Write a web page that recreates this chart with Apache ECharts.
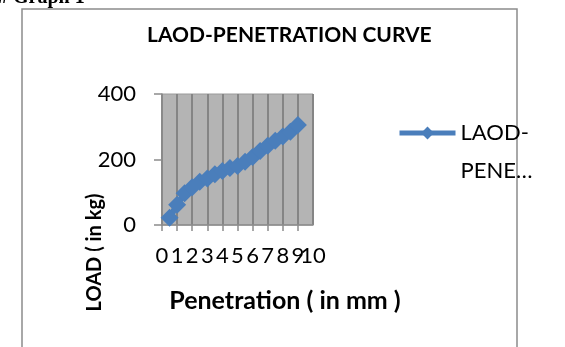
<!DOCTYPE html>
<html>
<head>
<meta charset="utf-8">
<script src="https://cdn.jsdelivr.net/npm/echarts@6/dist/echarts.min.js"></script>
<style>
  html, body { margin: 0; padding: 0; background: #fff; }
  #chart { width: 565px; height: 347px; }
</style>
</head>
<body>
<div id="chart"></div>
<script>
// penetration (mm) vs load (kg)
const penetration = [0.5, 1, 1.5, 2, 2.5, 3, 3.5, 4, 4.5, 5, 5.5, 6, 6.5, 7, 7.5, 8, 8.5, 9]
const load = [22, 62, 97, 115, 132, 142, 155, 165, 174, 180, 193, 208, 226, 242, 257, 270, 285, 305]
const xTicks = [0, 1, 2, 3, 4, 5, 6, 7, 8, 9, 10]
const yTicks = [0, 200, 400]

const seriesName = 'LAOD-PENETRATION CURVE'
const font = 'Lato'
const blue = '#4a7ebb'
const xMin = xTicks[0]
const xMax = xTicks[xTicks.length - 1]

const chart = echarts.init(document.getElementById('chart'))

const xLabelStyle = {
  margin: 20,
  hideOverlap: false,
  fontFamily: font,
  fontSize: 22,
  color: '#000'
}

chart.setOption({
  animation: false,
  backgroundColor: '#fff',
  graphic: [
    {
      type: 'text',
      left: -2,
      top: -12,
      style: {
        text: '# Graph 1',
        font: 'bold 20px "Liberation Serif"',
        fill: '#000'
      }
    },
    {
      type: 'rect',
      shape: { x: 22, y: 9, width: 495, height: 350 },
      style: { fill: 'none', stroke: '#8c8c8c', lineWidth: 1.5 }
    }
  ],
  title: {
    text: 'LAOD-PENETRATION CURVE',
    left: 142,
    top: 20,
    textStyle: {
      fontFamily: font,
      fontSize: 21,
      fontWeight: 'bold',
      color: '#000'
    }
  },
  legend: {
    data: [seriesName],
    left: 397,
    top: 76,
    padding: 0,
    itemWidth: 56,
    itemHeight: 16,
    // leading blank line keeps the first text line level with the icon
    formatter: () => '\nLAOD-\nPENE\u2026',
    lineStyle: { width: 5 },
    textStyle: {
      fontFamily: font,
      fontSize: 22,
      color: '#000',
      lineHeight: 38
    }
  },
  grid: {
    left: 162,
    right: 252,
    top: 94,
    bottom: 122,
    show: true,
    backgroundColor: '#b4b4b4',
    borderColor: '#9a9a9a',
    borderWidth: 1
  },
  xAxis: [
    {
      type: 'value',
      min: xMin,
      max: xMax,
      interval: 1,
      name: 'Penetration ( in mm )',
      nameLocation: 'middle',
      nameGap: 63,
      nameMoveOverlap: false,
      nameTextStyle: {
        fontFamily: font,
        fontSize: 25,
        fontWeight: 'bold',
        color: '#000',
        padding: [0, 0, 0, 95]
      },
      axisLine: { show: true, onZero: false, lineStyle: { color: '#8c8c8c', width: 1.5 } },
      axisTick: { show: true, length: 6, lineStyle: { color: '#8c8c8c', width: 1.5 } },
      axisLabel: { ...xLabelStyle, showMinLabel: true, showMaxLabel: false },
      splitLine: { show: true, lineStyle: { color: '#858585', width: 2 } }
    },
    {
      // second copy of the same scale only carries the crowded "10" label
      type: 'value',
      position: 'bottom',
      min: xMin,
      max: xMax,
      interval: 1,
      axisLine: { show: false },
      axisTick: { show: false },
      splitLine: { show: false },
      axisLabel: {
        ...xLabelStyle,
        showMinLabel: false,
        showMaxLabel: true,
        formatter: (v) => (v === xMax ? String(v) : '')
      }
    }
  ],
  yAxis: {
    type: 'value',
    min: yTicks[0],
    max: yTicks[yTicks.length - 1],
    interval: 200,
    name: 'LOAD ( in kg)',
    nameLocation: 'middle',
    nameGap: 57,
    nameMoveOverlap: false,
    nameTextStyle: {
      fontFamily: font,
      fontSize: 20,
      fontWeight: 'bold',
      color: '#000',
      padding: [0, 186, 0, 0]
    },
    axisLine: { show: true, lineStyle: { color: '#8c8c8c', width: 1.5 } },
    axisTick: { show: true, length: 8, lineStyle: { color: '#8c8c8c', width: 1.5 } },
    axisLabel: {
      margin: 26,
      fontFamily: font,
      fontSize: 22,
      color: '#000'
    },
    splitLine: { show: false }
  },
  series: [
    {
      name: seriesName,
      type: 'line',
      xAxisIndex: 0,
      data: penetration.map((p, i) => [p, load[i]]),
      symbol: 'diamond',
      symbolSize: 18,
      showAllSymbol: true,
      color: blue,
      lineStyle: { width: 6, color: blue },
      itemStyle: { color: blue }
    }
  ]
})
</script>
</body>
</html>
